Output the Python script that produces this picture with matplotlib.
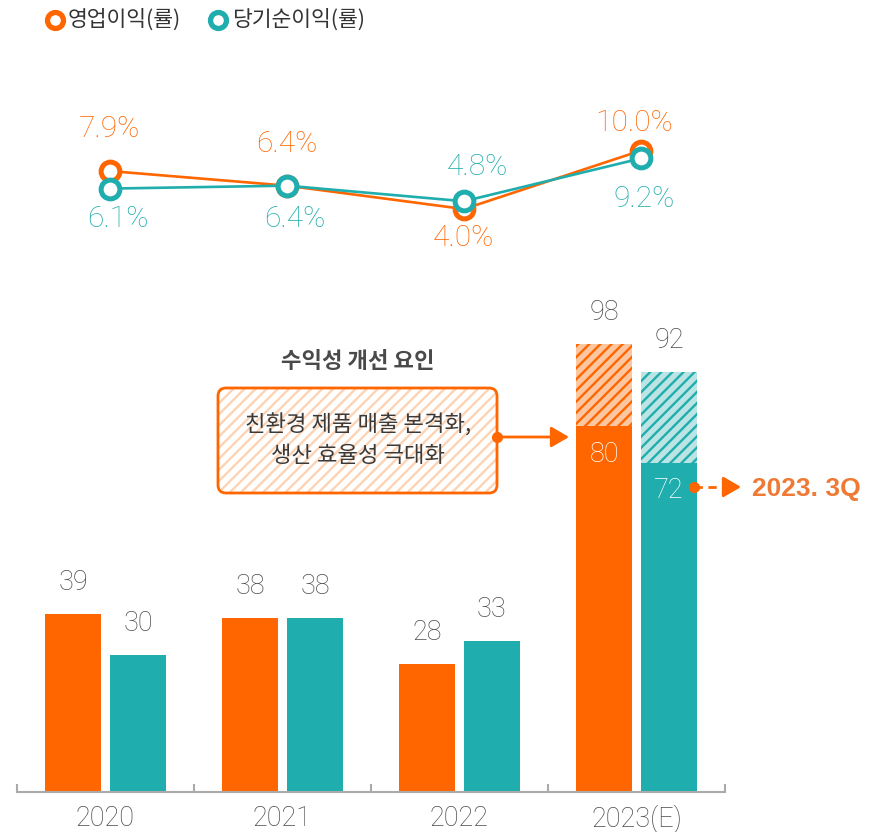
import numpy as np
import matplotlib
matplotlib.use("Agg")
import matplotlib.pyplot as plt
from matplotlib.patches import FancyBboxPatch, FancyArrowPatch
from matplotlib.lines import Line2D

# ---------------- data ----------------
years = ["2020", "2021", "2022", "2023(E)"]
op_profit = [39, 38, 28, 80]          # 영업이익 (solid)
net_profit = [30, 38, 33, 72]         # 당기순이익 (solid)
op_profit_est = [None, None, None, 98]    # 2023(E) estimate total
net_profit_est = [None, None, None, 92]
op_margin = [7.9, 6.4, 4.0, 10.0]     # 영업이익률 (%)
net_margin = [6.1, 6.4, 4.8, 9.2]     # 당기순이익률 (%)
legend_labels = ["영업이익(률)", "당기순이익(률)"]
note_title = "수익성 개선 요인"
note_text = "친환경 제품 매출 본격화,\n생산 효율성 극대화"
q_label = "2023. 3Q"

# ---------------- style ----------------
ORANGE = "#FF6600"
TEAL = "#20ADAD"
ORANGE_LIGHT = "#FCC6A0"
TEAL_LIGHT = "#BDE4E4"
BOX_STRIPE = "#FDD3B4"
GREY = "#4A4A4A"
KR = ["Noto Sans CJK KR", "DejaVu Sans"]
NUM = ["Roboto", "Liberation Sans", "DejaVu Sans"]

plt.rcParams["font.family"] = KR
plt.rcParams["hatch.linewidth"] = 1.7

W, H = 879, 832
fig = plt.figure(figsize=(W / 100, H / 100), dpi=100)
T = fig.dpi_scale_trans


def P(px, py):
    return px / 100, (H - py) / 100


# ---------------- bar axes ----------------
PX_PER_UNIT = 4.57
ax = fig.add_axes([17 / W, 1 - 792 / H, 708 / W, (792 - 286) / H])
ax.set_xlim(-0.5, 3.5)
ax.set_ylim(0, (792 - 286) / PX_PER_UNIT)
ax.patch.set_alpha(0)
for s in ["top", "right", "left"]:
    ax.spines[s].set_visible(False)
ax.spines["bottom"].set_color("#AAAAAA")
ax.spines["bottom"].set_linewidth(1.5)
ax.set_yticks([])

x = np.arange(len(years))
off, bw = 0.1835, 0.316
ax.bar(x - off, op_profit, bw, color=ORANGE, lw=0, zorder=2)
ax.bar(x + off, net_profit, bw, color=TEAL, lw=0, zorder=2)

for i in range(len(years)):
    if op_profit_est[i] is not None:
        ax.bar(i - off, op_profit_est[i] - op_profit[i], bw, bottom=op_profit[i],
               facecolor=ORANGE_LIGHT, edgecolor=ORANGE, hatch="///", lw=0, zorder=2)
    if net_profit_est[i] is not None:
        ax.bar(i + off, net_profit_est[i] - net_profit[i], bw, bottom=net_profit[i],
               facecolor=TEAL_LIGHT, edgecolor=TEAL, hatch="///", lw=0, zorder=2)

lab_kw = dict(ha="center", fontsize=19.5, family=NUM, fontweight="light")
for i in range(len(years)):
    for xo, base, est in [(-off, op_profit[i], op_profit_est[i]),
                          (off, net_profit[i], net_profit_est[i])]:
        if est is None:
            ax.annotate(f"{base}", (i + xo, base), xytext=(0, 13),
                        textcoords="offset points", va="bottom", color=GREY, **lab_kw)
        else:
            ax.annotate(f"{est}", (i + xo, est), xytext=(0, 13),
                        textcoords="offset points", va="bottom", color=GREY, **lab_kw)
            ax.annotate(f"{base}", (i + xo, base), xytext=(0, -20),
                        textcoords="offset points", va="center", color="white", **lab_kw)

ax.set_xticks(x)
ax.set_xticklabels(years, family=NUM, fontsize=19.5, fontweight="light", color=GREY)
ax.tick_params(axis="x", which="major", length=0, pad=9)
ax.set_xticks(np.arange(-0.5, 3.6, 1), minor=True)
ax.tick_params(axis="x", which="minor", direction="in", length=6, width=1.5,
               color="#AAAAAA")

# ---------------- line axes ----------------
PX_PER_PCT = 9.74
lax = fig.add_axes([17 / W, 1 - 248 / H, 708 / W, 160 / H])
lax.set_xlim(-0.5, 3.5)
lax.set_ylim(0, 160 / PX_PER_PCT)
lax.axis("off")
lax.patch.set_alpha(0)

lx = x + 0.025
mk = dict(marker="o", markersize=13.5, markeredgewidth=3.6, markerfacecolor="white", lw=1.9)
lax.plot(lx, op_margin, color=ORANGE, zorder=3, **mk)
lax.plot(lx, net_margin, color=TEAL, zorder=4, **mk)

# label offsets in points (dx, dy)
op_off = [(0, 30), (0, 30), (0, -21), (-5, 20)]
net_off = [(6, -22), (6, -24), (10, 25), (2, -29)]
pct_kw = dict(ha="center", va="center", fontsize=21.5, family=NUM, fontweight="light")
for i in range(len(years)):
    lax.annotate(f"{op_margin[i]:.1f}%", (lx[i], op_margin[i]), xytext=op_off[i],
                 textcoords="offset points", color=ORANGE, **pct_kw)
    lax.annotate(f"{net_margin[i]:.1f}%", (lx[i], net_margin[i]), xytext=net_off[i],
                 textcoords="offset points", color=TEAL, **pct_kw)

# ---------------- legend ----------------
for (mx, tx), col, lab in zip([(55, 68), (218, 232)], [ORANGE, TEAL], legend_labels):
    fig.add_artist(Line2D([mx / 100], [(H - 20) / 100], transform=T, marker="o",
                          markersize=11.5, markeredgewidth=3.8, markerfacecolor="white",
                          markeredgecolor=col, lw=0))
    fig.text(*P(tx, 20), lab, transform=T, ha="left", va="center", fontsize=15.5,
             color="#333333")

# ---------------- note box ----------------
fig.text(*P(358, 362), note_title, transform=T, ha="center", va="center",
         fontsize=16, fontweight="bold", color=GREY)
bx0, by0 = P(218, 493)
bw_in, bh_in = (497 - 218) / 100, (493 - 388) / 100
fig.add_artist(FancyBboxPatch((bx0, by0), bw_in, bh_in, transform=T,
                              boxstyle="round,pad=0,rounding_size=0.08",
                              facecolor="white", edgecolor=BOX_STRIPE, hatch="///", lw=0))
fig.add_artist(FancyBboxPatch((bx0, by0), bw_in, bh_in, transform=T,
                              boxstyle="round,pad=0,rounding_size=0.08",
                              facecolor="none", edgecolor=ORANGE, lw=2))
fig.text(*P(358, 440), note_text, transform=T, ha="center", va="center",
         fontsize=16, fontweight="medium", color="#3A3A3A", linespacing=1.4)

# arrow from box to 2023 bar
fig.add_artist(Line2D([P(497, 437)[0]], [P(497, 437)[1]], transform=T, marker="o",
                      markersize=7, color=ORANGE, lw=0))
fig.add_artist(FancyArrowPatch(P(497, 437), P(569, 437), transform=T,
               arrowstyle="-|>,head_length=0.6,head_width=0.35", mutation_scale=18,
               color=ORANGE, lw=2, shrinkA=0, shrinkB=0))

# 2023. 3Q dashed arrow
fig.add_artist(Line2D([P(694, 487)[0]], [P(694, 487)[1]], transform=T, marker="o",
                      markersize=7, color=ORANGE, lw=0))
fig.add_artist(Line2D([P(694, 487)[0], P(730, 487)[0]], [P(694, 487)[1]] * 2,
                      transform=T, color=ORANGE, lw=2, ls=(0, (3, 2))))
fig.add_artist(FancyArrowPatch(P(728, 487), P(741, 487), transform=T,
               arrowstyle="-|>,head_length=0.6,head_width=0.35", mutation_scale=18,
               color=ORANGE, lw=2, shrinkA=0, shrinkB=0))
fig.text(*P(752, 489), q_label, transform=T, ha="left", va="center", fontsize=19,
         fontweight="bold", color="#EE7A35", family=["Liberation Sans", "DejaVu Sans"])

fig.savefig("out.png", dpi=100)
